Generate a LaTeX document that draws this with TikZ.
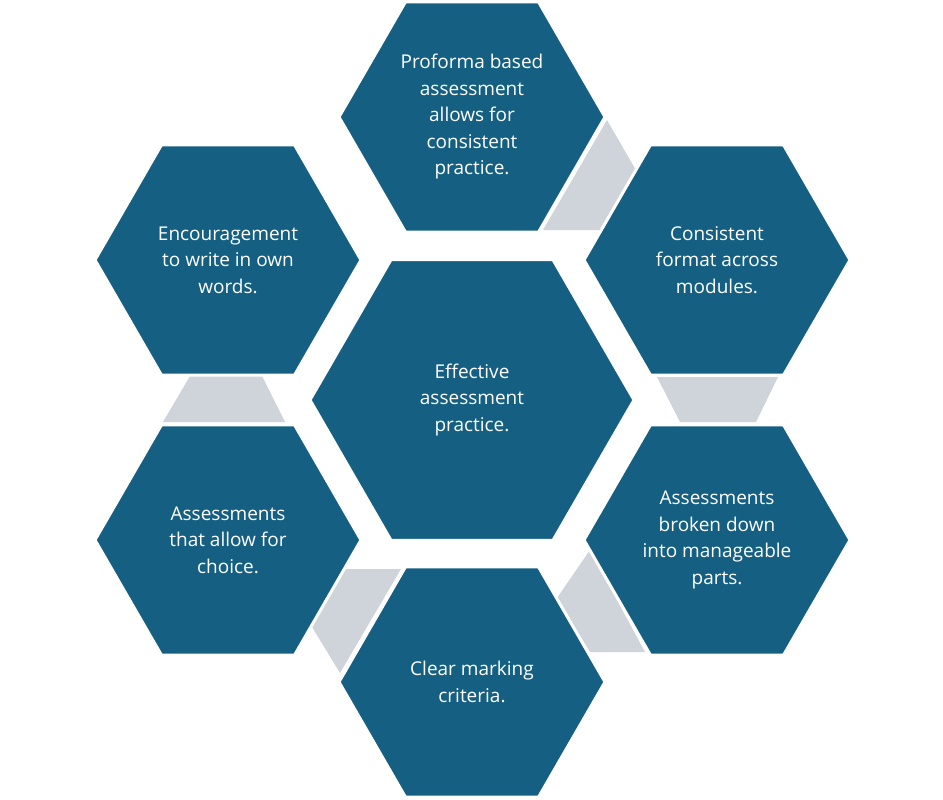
\documentclass[tikz,border=0pt]{standalone}
\usepackage{fontspec}
\setmainfont{Open Sans}
\usetikzlibrary{shapes.geometric}
\definecolor{hexblue}{HTML}{156082}
\definecolor{gapgray}{HTML}{CFD3DA}
\begin{document}
\begin{tikzpicture}[x=1pt,y=-1pt,
  hexa/.style={regular polygon,regular polygon sides=6,fill=hexblue,draw=white,line width=3pt,
    minimum size=266pt,inner sep=0pt,outer sep=0pt,text=white,align=center,
    font=\fontsize{19}{26.5}\selectfont},
  gap/.style={fill=gapgray}]
\useasboundingbox (0,0) rectangle (943,800);
\fill[gap] (607,120) -- (637,172) -- (600,230) -- (543,230) -- cycle;
\fill[gap] (657,377) -- (778,377) -- (756,422) -- (680,422) -- cycle;
\fill[gap] (590,550) -- (645,652) -- (590,652) -- (557,598) -- cycle;
\fill[gap] (343,569) -- (401,569) -- (340,673) -- (312,627) -- cycle;
\fill[gap] (190,376) -- (262,376) -- (285,422) -- (163,422) -- cycle;
\node[hexa,minimum size=324pt] (c) at (472,400) {Effective\\assessment\\practice.};
\node[hexa] (t) at (472,117) {Proforma based\\assessment\\allows for\\consistent\\practice.};
\node[hexa] (tr) at (717,260) {Consistent\\format across\\modules.};
\node[hexa] (br) at (717,540) {Assessments\\broken down\\into manageable\\parts.};
\node[hexa] (b) at (472,682) {Clear marking\\criteria.};
\node[hexa] (bl) at (228,540) {Assessments\\that allow for\\choice.};
\node[hexa] (tl) at (228,260) {Encouragement\\to write in own\\words.};
\end{tikzpicture}
\end{document}
